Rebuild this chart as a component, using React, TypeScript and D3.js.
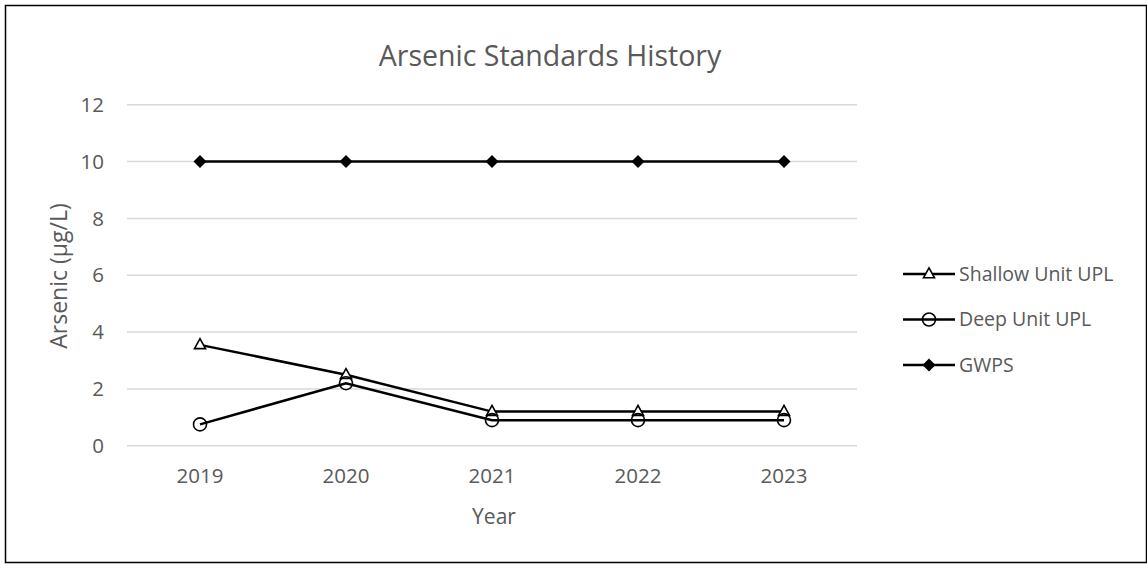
import React from "react";
import * as d3 from "d3";

const years = ["2019", "2020", "2021", "2022", "2023"];
const shallowUPL = [3.55, 2.5, 1.2, 1.2, 1.2];
const deepUPL = [0.75, 2.2, 0.9, 0.9, 0.9];
const gwps = [10, 10, 10, 10, 10];
const yTicks = [0, 2, 4, 6, 8, 10, 12];
const seriesNames = ["Shallow Unit UPL", "Deep Unit UPL", "GWPS"];

const W = 1147;
const H = 564;
const FONT = "'Open Sans', sans-serif";
const TEXT = "#595959";

function Marker({ kind, x, y }: { kind: string; x: number; y: number }) {
  if (kind === "tri") {
    const s = 11;
    const h = s * 0.9;
    const p = `M${x},${y - h * 0.62} L${x + s / 2},${y + h * 0.38} L${x - s / 2},${y + h * 0.38} Z`;
    return <path d={p} fill="#fff" stroke="#000" strokeWidth={1.6} />;
  }
  if (kind === "circle") {
    return <circle cx={x} cy={y} r={6.5} fill="none" stroke="#000" strokeWidth={1.6} />;
  }
  const r = 6.5;
  return <path d={`M${x},${y - r} L${x + r},${y} L${x},${y + r} L${x - r},${y} Z`} fill="#000" />;
}

export default function App() {
  const x = d3.scaleBand<string>().domain(years).range([127, 857]);
  const y = d3.scaleLinear().domain([0, 12]).range([445.7, 104.8]);
  const cx = (d: string) => (x(d) as number) + x.bandwidth() / 2;

  const series = [
    { name: seriesNames[0], values: shallowUPL, marker: "tri" },
    { name: seriesNames[1], values: deepUPL, marker: "circle" },
    { name: seriesNames[2], values: gwps, marker: "diamond" },
  ];

  const line = d3
    .line<number>()
    .x((_, i) => cx(years[i]))
    .y((v) => y(v));

  const legendX0 = 903;
  const legendX1 = 955;
  const legendY = [274, 319.5, 365];

  return (
    <svg
      width={W}
      height={H}
      style={{ position: "absolute", left: 0, top: 0, background: "#fff" }}
      fontFamily={FONT}
    >
      <rect x={0} y={0} width={W} height={H} fill="#fff" />
      <rect x={5.5} y={5.5} width={1141} height={557} fill="none" stroke="#000" strokeWidth={1.5} />

      <text x={550} y={66} textAnchor="middle" fontSize={28.5} fill={TEXT}>
        Arsenic Standards History
      </text>

      {yTicks.map((t) => (
        <g key={t}>
          <line x1={127} x2={857} y1={y(t)} y2={y(t)} stroke="#d9d9d9" strokeWidth={1.5} />
          <text x={104} y={y(t)} dy="0.35em" textAnchor="end" fontSize={20.5} fill={TEXT}>
            {t}
          </text>
        </g>
      ))}

      {years.map((yr) => (
        <text key={yr} x={cx(yr)} y={483} textAnchor="middle" fontSize={20.5} fill={TEXT}>
          {yr}
        </text>
      ))}

      <text x={494} y={524} textAnchor="middle" fontSize={21} fill={TEXT}>
        Year
      </text>
      <text
        transform={`translate(67,276) rotate(-90)`}
        textAnchor="middle"
        fontSize={23}
        fill={TEXT}
      >
        Arsenic (µg/L)
      </text>

      {series.map((s) => (
        <g key={s.name}>
          <path d={line(s.values) || ""} fill="none" stroke="#000" strokeWidth={2.5} />
          {s.values.map((v, i) => (
            <Marker key={i} kind={s.marker} x={cx(years[i])} y={y(v)} />
          ))}
        </g>
      ))}

      {series.map((s, i) => (
        <g key={s.name}>
          <line x1={legendX0} x2={legendX1} y1={legendY[i]} y2={legendY[i]} stroke="#000" strokeWidth={2.5} />
          <Marker kind={s.marker} x={(legendX0 + legendX1) / 2} y={legendY[i]} />
          <text x={959} y={legendY[i]} dy="0.35em" fontSize={19.5} fill={TEXT}>
            {s.name}
          </text>
        </g>
      ))}
    </svg>
  );
}
